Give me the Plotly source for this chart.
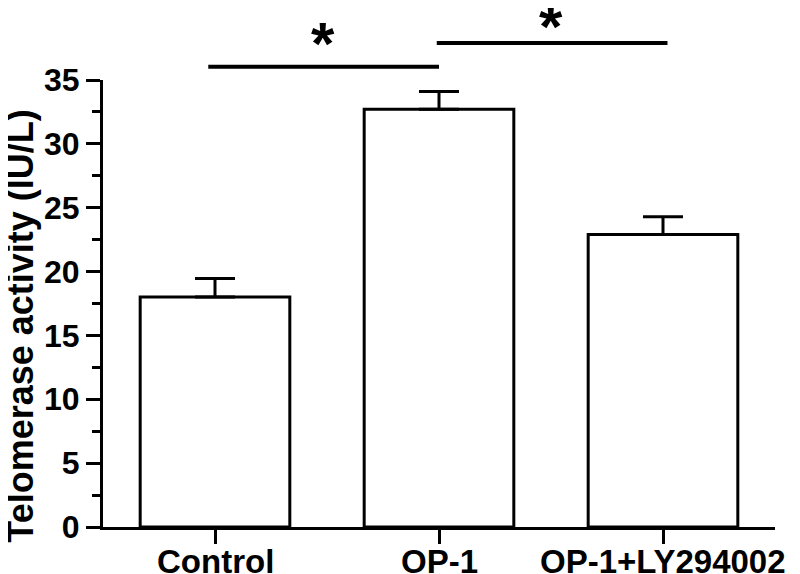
import plotly.graph_objects as go

categories = ["Control", "OP-1", "OP-1+LY294002"]
values = [18.0, 32.7, 22.9]
errors = [1.45, 1.4, 1.4]
y_ticks = [0, 5, 10, 15, 20, 25, 30, 35]
y_title = "Telomerase activity (IU/L)"

# significance brackets: (x start, x end, level in paper units), star (x, level)
sig_lines = [(-0.03, 1.0, 1.0298), (0.99, 2.02, 1.0828)]
stars = [(0.48, 1.0022), (1.50, 1.040)]

FONT = "Liberation Sans, Arial, sans-serif"

fig = go.Figure()
fig.add_trace(go.Bar(
    x=list(range(len(categories))),
    y=values,
    width=0.668,
    marker=dict(color="white", line=dict(color="black", width=3)),
    error_y=dict(type="data", symmetric=False, array=errors,
                 arrayminus=[0] * len(errors),
                 color="black", thickness=3, width=20),
    showlegend=False,
))

for x0, x1, lvl in sig_lines:
    fig.add_shape(type="line", xref="x", yref="paper",
                  x0=x0, x1=x1, y0=lvl, y1=lvl,
                  line=dict(color="black", width=4))
for sx, sl in stars:
    fig.add_annotation(xref="x", yref="paper", x=sx, y=sl,
                       text="*", showarrow=False, yanchor="bottom",
                       font=dict(family=FONT, size=60, color="black", weight="bold"))

# category labels under the x axis
for i, cat in enumerate(categories):
    fig.add_annotation(xref="x", yref="paper", x=i, y=-0.031,
                       text=cat, showarrow=False, yanchor="top", xanchor="center",
                       font=dict(family=FONT, size=33, color="black", weight="bold"))

fig.add_annotation(xref="paper", yref="paper", x=-0.1225, y=0.4497,
                   text=y_title, textangle=-90, showarrow=False,
                   xanchor="center", yanchor="middle",
                   font=dict(family=FONT, size=36, color="black", weight="bold"))

# page body has an 8px default margin, so the figure is sized/placed to compensate
fig.update_layout(
    width=792, height=566,
    margin=dict(l=95, r=25, t=72, b=47),
    plot_bgcolor="white", paper_bgcolor="white",
)
fig.update_xaxes(
    range=[-0.5, 2.5], automargin=False,
    tickmode="array", tickvals=list(range(len(categories))), showticklabels=False,
    showline=True, linecolor="black", linewidth=3,
    ticks="outside", ticklen=14, tickwidth=3, tickcolor="black",
    showgrid=False, zeroline=False,
)
fig.update_yaxes(
    range=[0, 35], automargin=False,
    tickmode="array", tickvals=y_ticks,
    showline=True, linecolor="black", linewidth=3,
    ticks="outside", ticklen=14, tickwidth=3, tickcolor="black",
    minor=dict(dtick=2.5, ticks="outside", ticklen=8, tickwidth=3, tickcolor="black", showgrid=False),
    tickfont=dict(family=FONT, size=32, color="black", weight="bold"),
    showgrid=False, zeroline=False,
)

fig.write_html("out.html")
